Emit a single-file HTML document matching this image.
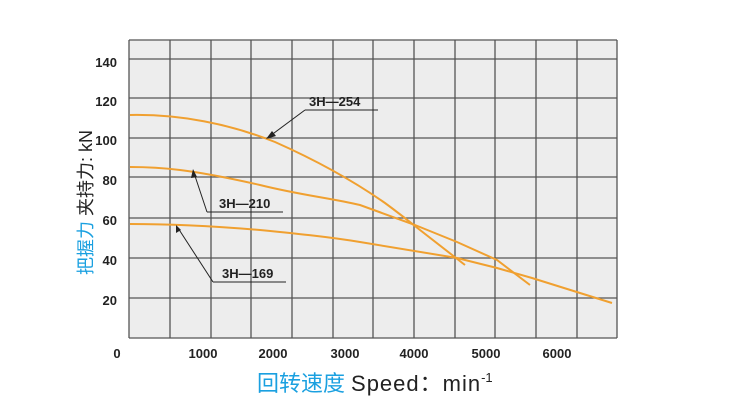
<!DOCTYPE html>
<html><head><meta charset="utf-8"><style>
body{margin:0;background:#fff;width:750px;height:414px;overflow:hidden}
</style></head><body>
<svg width="750" height="414" xmlns="http://www.w3.org/2000/svg" style="position:absolute;left:0;top:0">
<rect x="129" y="40" width="488" height="298" fill="#ededed"/>
<g stroke="#555" stroke-width="1.3" fill="none">
<line x1="129" y1="40" x2="129" y2="338"/><line x1="170" y1="40" x2="170" y2="338"/><line x1="211" y1="40" x2="211" y2="338"/><line x1="251" y1="40" x2="251" y2="338"/><line x1="292" y1="40" x2="292" y2="338"/><line x1="333" y1="40" x2="333" y2="338"/><line x1="373" y1="40" x2="373" y2="338"/><line x1="414" y1="40" x2="414" y2="338"/><line x1="455" y1="40" x2="455" y2="338"/><line x1="495" y1="40" x2="495" y2="338"/><line x1="536" y1="40" x2="536" y2="338"/><line x1="577" y1="40" x2="577" y2="338"/><line x1="617" y1="40" x2="617" y2="338"/>
<line x1="129" y1="40" x2="617" y2="40"/><line x1="129" y1="59" x2="617" y2="59"/><line x1="129" y1="98" x2="617" y2="98"/><line x1="129" y1="138" x2="617" y2="138"/><line x1="129" y1="177" x2="617" y2="177"/><line x1="129" y1="218" x2="617" y2="218"/><line x1="129" y1="258" x2="617" y2="258"/><line x1="129" y1="298" x2="617" y2="298"/><line x1="129" y1="338" x2="617" y2="338"/>
</g>
<g stroke="#f0a030" stroke-width="2" fill="none">
<path d="M130,115 C180,114 230,124 275,142 C320,162 355,182 385,203 C400,214 410,222 420,230 L465,265"/>
<path d="M130,167 C160,167 190,169 260,185 C300,195 330,198 360,205 L415,225 L457,242 L497,260 L530,285"/>
<path d="M130,224 C160,224 200,225 260,230 C300,234 330,237 360,242 L457,258 L497,268 L532,278 L612,303"/>
</g>
<g stroke="#222" stroke-width="1" fill="none">
<line x1="305" y1="110" x2="378" y2="110"/><line x1="305" y1="110" x2="270" y2="136"/>
<line x1="207" y1="212" x2="283" y2="212"/><line x1="207" y1="212" x2="194" y2="173"/>
<line x1="213" y1="282" x2="286" y2="282"/><line x1="213" y1="282" x2="178" y2="228"/>
</g>
<g fill="#222">
<polygon points="266,139 272,131 276,136"/>
<polygon points="193,169 191,178 197,177"/>
<polygon points="176,225 176,233 181,230"/>
</g>
<g font-family="Liberation Sans, sans-serif" font-weight="bold" font-size="13" fill="#222">
<text x="309" y="106">3H—254</text>
<text x="219" y="208">3H—210</text>
<text x="222" y="278">3H—169</text>
</g>
<g font-family="Liberation Sans, sans-serif" font-weight="bold" font-size="13" fill="#222" text-anchor="end">
<text x="117" y="67">140</text><text x="117" y="106">120</text><text x="117" y="145">100</text><text x="117" y="185">80</text><text x="117" y="225">60</text><text x="117" y="265">40</text><text x="117" y="305">20</text>
</g>
<g font-family="Liberation Sans, sans-serif" font-weight="bold" font-size="13" fill="#222" text-anchor="middle">
<text x="117" y="358">0</text><text x="203" y="358">1000</text><text x="273" y="358">2000</text><text x="345" y="358">3000</text><text x="414" y="358">4000</text><text x="486" y="358">5000</text><text x="557" y="358">6000</text>
</g>
<text transform="translate(92,275) rotate(-90)" font-family="Liberation Sans, Noto Sans CJK SC, sans-serif" font-size="18"><tspan fill="#1aa0e0">把握力 </tspan><tspan fill="#222">夹持力: kN</tspan></text>
<text x="257" y="391" font-family="Liberation Sans, Noto Sans CJK SC, sans-serif" font-size="22"><tspan fill="#1aa0e0">回转速度</tspan><tspan fill="#222" dx="6" letter-spacing="1">Speed：min</tspan><tspan fill="#222" font-size="13" dy="-9">-1</tspan></text>
</svg>
</body></html>
